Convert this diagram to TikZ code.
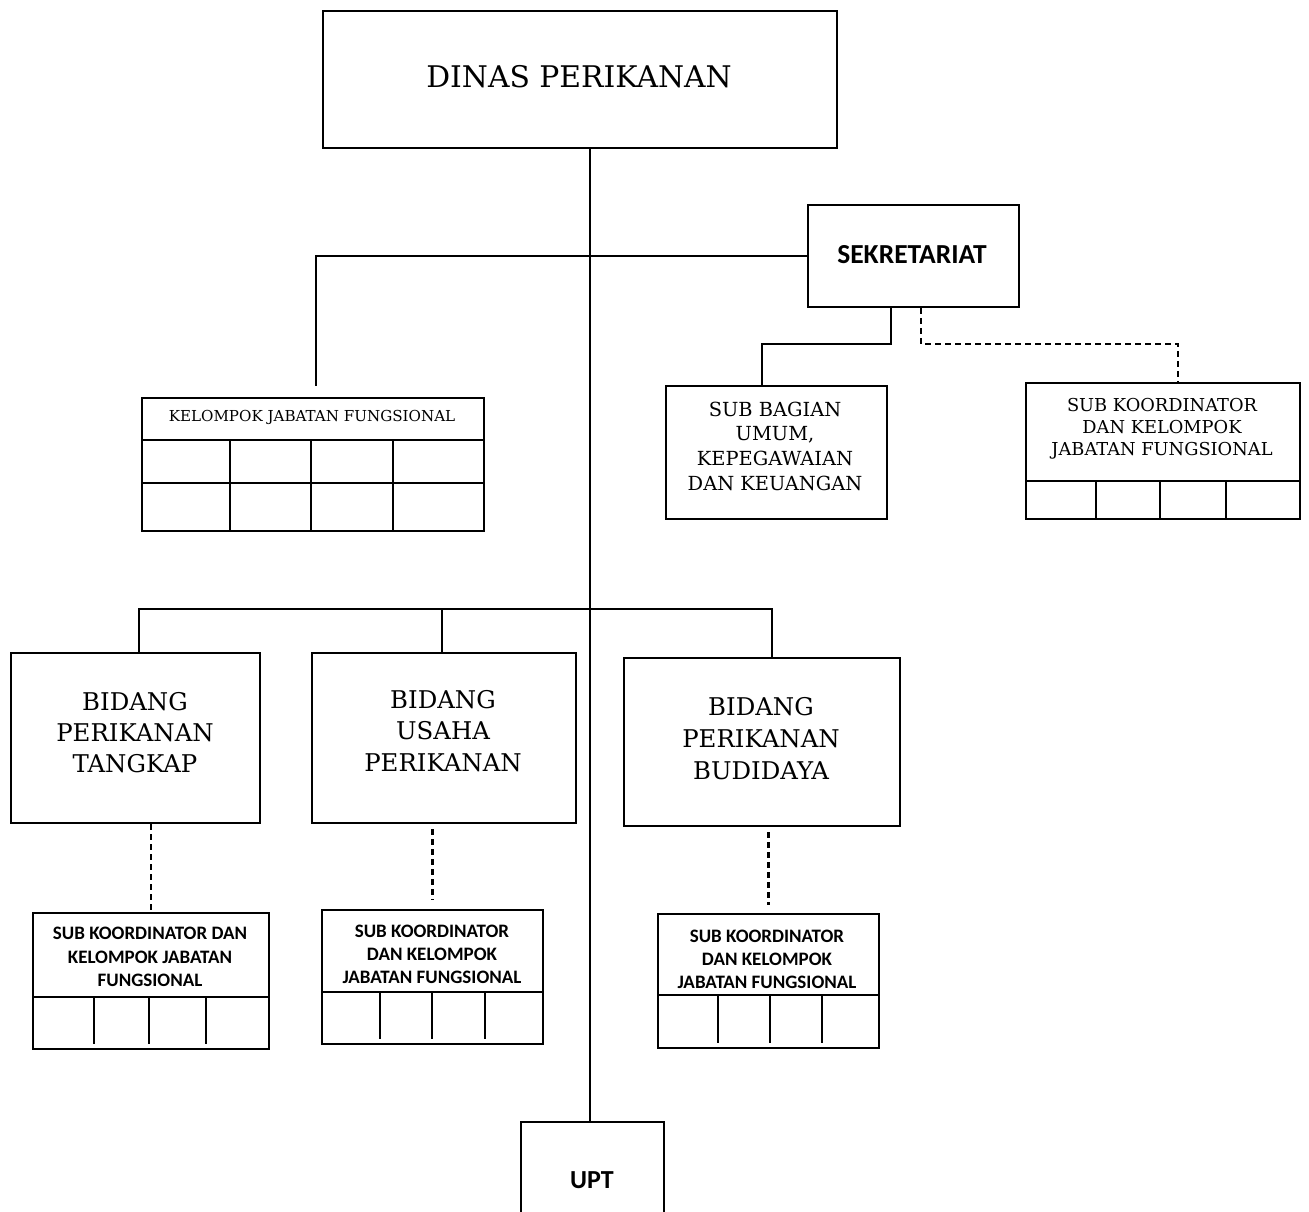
\documentclass[tikz,border=0pt]{standalone}
\usepackage{fontspec}
\setmainfont{DejaVu Serif}
\newfontfamily\calib{Carlito}
\begin{document}
\begin{tikzpicture}[x=1pt,y=-1pt,
  box/.style={draw,line width=2pt,rectangle,inner sep=0pt,anchor=north west},
  grid/.style={line width=2pt},
  conn/.style={line width=2.2pt},
  dconn/.style={line width=2.2pt,dash pattern=on 6pt off 4pt},
  lbl/.style={align=center,inner sep=0pt}]
\path[use as bounding box] (0,0) rectangle (1309,1212);
\clip (0,0) rectangle (1309,1212);

% top
\node[box,minimum width=514pt,minimum height=137pt] (dinas) at (322,10) {};
\node[lbl,font=\fontsize{29.8}{34}\selectfont] (dinastxt) at (579,77) {DINAS PERIKANAN};

% sekretariat
\node[box,minimum width=211pt,minimum height=102pt] (sek) at (807,204) {};
\node[lbl,font=\calib\bfseries\fontsize{27.5}{30}\selectfont] (sektxt) at (912,255) {SEKRETARIAT};

% kelompok jabatan fungsional (left)
\node[box,minimum width=342pt,minimum height=133pt] (kjf) at (141,397) {};
\node[lbl,font=\fontsize{15.1}{17}\selectfont] (kjftxt) at (312,417) {KELOMPOK JABATAN FUNGSIONAL};
\draw[grid] (141,440) -- (483,440);
\draw[grid] (141,483) -- (483,483);
\foreach \x in {230,311,393} \draw[grid] (\x,440) -- (\x,530);

% sub bagian
\node[box,minimum width=221pt,minimum height=133pt] (sbu) at (665,385) {};
\node[lbl,font=\fontsize{19.4}{24.7}\selectfont] (sbutxt) at (775,446) {SUB BAGIAN\\UMUM,\\KEPEGAWAIAN\\DAN KEUANGAN};

% sub koordinator right
\node[box,minimum width=274pt,minimum height=136pt] (skr) at (1025,382) {};
\node[lbl,font=\fontsize{17.8}{22}\selectfont] (skrtxt) at (1162,429) {SUB KOORDINATOR\\DAN KELOMPOK\\JABATAN FUNGSIONAL};
\draw[grid] (1025,481) -- (1299,481);
\foreach \x in {1096,1160,1226} \draw[grid] (\x,481) -- (\x,518);

% bidang
\node[box,minimum width=249pt,minimum height=170pt] (bt) at (10,652) {};
\node[lbl,font=\fontsize{24.4}{31}\selectfont] (bttxt) at (135,733) {BIDANG\\PERIKANAN\\TANGKAP};
\node[box,minimum width=264pt,minimum height=170pt] (bu) at (311,652) {};
\node[lbl,font=\fontsize{24.4}{31.5}\selectfont] (butxt) at (443,731) {BIDANG\\USAHA\\PERIKANAN};
\node[box,minimum width=276pt,minimum height=168pt] (bb) at (623,657) {};
\node[lbl,font=\fontsize{24.4}{32}\selectfont] (bbtxt) at (761,739) {BIDANG\\PERIKANAN\\BUDIDAYA};

% sub koordinator boxes below
\node[box,minimum width=236pt,minimum height=136pt] (s1) at (32,912) {};
\node[lbl,font=\calib\bfseries\fontsize{19}{23.5}\selectfont] (s1txt) at (150,957) {SUB KOORDINATOR DAN\\KELOMPOK JABATAN\\FUNGSIONAL};
\draw[grid] (32,997) -- (268,997);
\foreach \x in {94,149,206} \draw[grid] (\x,997) -- (\x,1044);

\node[box,minimum width=221pt,minimum height=134pt] (s2) at (321,909) {};
\node[lbl,font=\calib\bfseries\fontsize{19}{23}\selectfont] (s2txt) at (432,954) {SUB KOORDINATOR\\DAN KELOMPOK\\JABATAN FUNGSIONAL};
\draw[grid] (321,992) -- (542,992);
\foreach \x in {380,432,485} \draw[grid] (\x,992) -- (\x,1039);

\node[box,minimum width=221pt,minimum height=134pt] (s3) at (657,913) {};
\node[lbl,font=\calib\bfseries\fontsize{19}{23}\selectfont] (s3txt) at (767,959) {SUB KOORDINATOR\\DAN KELOMPOK\\JABATAN FUNGSIONAL};
\draw[grid] (657,995) -- (878,995);
\foreach \x in {718,770,822} \draw[grid] (\x,995) -- (\x,1043);

% UPT
\node[box,minimum width=143pt,minimum height=120pt] (upt) at (520,1121) {};
\node[lbl,font=\calib\bfseries\fontsize{26}{30}\selectfont] (upttxt) at (592,1180) {UPT};

% connectors
\coordinate (kjftop) at (316,386);
\coordinate (bus) at (589,609);
\draw[conn] ([xshift=-2.5pt]upt.north |- dinas.south) -- ([xshift=-2.5pt]upt.north);
\draw[conn] (sek.west) -- (kjftop |- sek.west) -- (kjftop);
\draw[conn] ([xshift=-22.5pt]sek.south) -- ++(0,36) -| ([xshift=-14.5pt]sbu.north);
\draw[dconn] ([xshift=7.5pt]sek.south) -- ++(0,36) -| ([xshift=15pt]skr.north);
\draw[conn] ([xshift=3.5pt]bt.north) -- ([xshift=3.5pt]bt.north |- bus) -- ([xshift=10pt]bb.north |- bus) -- ([xshift=10pt]bb.north);
\draw[conn] ([xshift=-2pt]bu.north) -- ([xshift=-2pt]bu.north |- bus);
\draw[dconn] (s1.north |- bt.south) -- (s1.north);
\draw[dconn,shorten <=5pt,shorten >=9pt] (s2.north |- bu.south) -- (s2.north);
\draw[dconn,shorten <=5pt,shorten >=8pt] (s3.north |- bb.south) -- (s3.north);
\end{tikzpicture}
\end{document}
